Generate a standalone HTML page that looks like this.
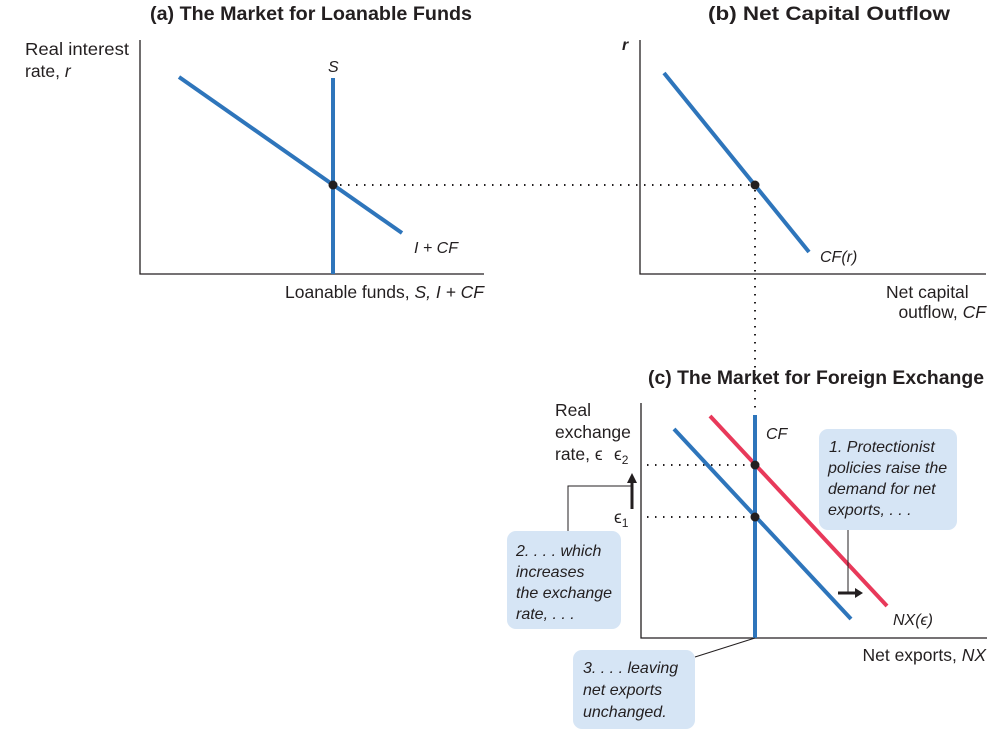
<!DOCTYPE html>
<html><head><meta charset="utf-8"><style>
html,body{margin:0;padding:0;background:#fff;}
svg{display:block;}
text{font-family:"Liberation Sans",sans-serif;fill:#231f20;}
.t{font-weight:bold;font-size:19px;}
.l{font-size:17.5px;}
.i{font-size:16px;font-style:italic;}
</style></head><body>
<svg width="999" height="729" viewBox="0 0 999 729" xmlns="http://www.w3.org/2000/svg">
<!-- titles -->
<text class="t" x="150" y="20" textLength="322" lengthAdjust="spacingAndGlyphs">(a) The Market for Loanable Funds</text>
<text class="t" x="708" y="20" textLength="242" lengthAdjust="spacingAndGlyphs">(b) Net Capital Outflow</text>
<text class="t" x="648" y="384" textLength="336" lengthAdjust="spacingAndGlyphs">(c) The Market for Foreign Exchange</text>

<!-- Panel a -->
<text class="l" x="25" y="55" textLength="104" lengthAdjust="spacingAndGlyphs">Real interest</text>
<text class="l" x="25" y="77">rate, <tspan font-style="italic">r</tspan></text>
<polyline points="140,40 140,274 484,274" fill="none" stroke="#231f20" stroke-width="1.3"/>
<line x1="333" y1="78" x2="333" y2="274" stroke="#2e75bb" stroke-width="4"/>
<line x1="179" y1="77" x2="402" y2="233" stroke="#2e75bb" stroke-width="4"/>
<text class="i" x="328" y="72" font-size="17">S</text>
<text class="i" x="414" y="253" font-size="18">I + CF</text>
<text class="l" x="484" y="298" text-anchor="end">Loanable funds, <tspan font-style="italic">S, I + CF</tspan></text>
<line x1="340" y1="185" x2="752" y2="185" stroke="#231f20" stroke-width="2" stroke-dasharray="1.5 6.5"/>
<circle cx="333" cy="185" r="4.5" fill="#231f20"/>

<!-- Panel b -->
<text class="i" x="622" y="50" font-weight="bold" font-size="17">r</text>
<polyline points="640,40 640,274 986,274" fill="none" stroke="#231f20" stroke-width="1.3"/>
<line x1="664" y1="73" x2="809" y2="252" stroke="#2e75bb" stroke-width="4"/>
<text class="i" x="820" y="262" font-size="17.5">CF(r)</text>
<text class="l" x="886" y="298">Net capital</text>
<text class="l" x="986" y="318" text-anchor="end">outflow, <tspan font-style="italic">CF</tspan></text>
<line x1="755" y1="190" x2="755" y2="412" stroke="#231f20" stroke-width="2" stroke-dasharray="1.5 6.5"/>
<circle cx="755" cy="185" r="4.5" fill="#231f20"/>

<!-- Panel c -->
<text class="l" x="555" y="416">Real</text>
<text class="l" x="555" y="438">exchange</text>
<text class="l" x="555" y="460">rate, ϵ</text>
<text class="l" x="614" y="460" font-size="19">ϵ<tspan font-size="12" dy="4">2</tspan></text>
<text class="l" x="614" y="523" font-size="19">ϵ<tspan font-size="12" dy="4">1</tspan></text>
<polyline points="641,403 641,638 987,638" fill="none" stroke="#231f20" stroke-width="1.3"/>
<line x1="647" y1="465" x2="752" y2="465" stroke="#231f20" stroke-width="2" stroke-dasharray="1.5 6.5"/>
<line x1="647" y1="517" x2="752" y2="517" stroke="#231f20" stroke-width="2" stroke-dasharray="1.5 6.5"/>
<line x1="674" y1="429" x2="851" y2="619" stroke="#2e75bb" stroke-width="4"/>
<line x1="710" y1="416" x2="887" y2="606" stroke="#e8395a" stroke-width="4"/>
<line x1="755" y1="415" x2="755" y2="638" stroke="#2e75bb" stroke-width="4"/>
<circle cx="755" cy="465" r="4.5" fill="#231f20"/>
<circle cx="755" cy="517" r="4.5" fill="#231f20"/>
<text class="i" x="766" y="439" font-size="17.5">CF</text>
<text class="i" x="893" y="625" font-size="17.5">NX(ϵ)</text>
<text class="l" x="986" y="661" text-anchor="end">Net exports, <tspan font-style="italic">NX</tspan></text>

<!-- up arrow -->
<line x1="632" y1="509" x2="632" y2="482" stroke="#231f20" stroke-width="3"/>
<polygon points="627,483 637,483 632,473" fill="#231f20"/>
<polyline points="632,486 568,486 568,531" fill="none" stroke="#231f20" stroke-width="1"/>

<!-- box 2 -->
<rect x="507" y="531" width="114" height="98" rx="9" fill="#d6e5f5"/>
<text class="i" x="516" y="556">2. . . . which</text>
<text class="i" x="516" y="577">increases</text>
<text class="i" x="516" y="598">the exchange</text>
<text class="i" x="516" y="619">rate, . . .</text>

<!-- box 1 -->
<rect x="819" y="429" width="138" height="101" rx="9" fill="#d6e5f5"/>
<text class="i" x="829" y="452">1. Protectionist</text>
<text class="i" x="828" y="473">policies raise the</text>
<text class="i" x="828" y="494">demand for net</text>
<text class="i" x="828" y="515">exports, . . .</text>
<line x1="848" y1="530" x2="848" y2="593" stroke="#231f20" stroke-width="1"/>
<line x1="838" y1="593" x2="856" y2="593" stroke="#231f20" stroke-width="3"/>
<polygon points="855,588 855,598 863,593" fill="#231f20"/>

<!-- box 3 -->
<rect x="573" y="650" width="122" height="79" rx="9" fill="#d6e5f5"/>
<text class="i" x="583" y="673">3. . . . leaving</text>
<text class="i" x="583" y="695">net exports</text>
<text class="i" x="583" y="717">unchanged.</text>
<line x1="695" y1="657" x2="755" y2="638" stroke="#231f20" stroke-width="1"/>
</svg>
</body></html>
